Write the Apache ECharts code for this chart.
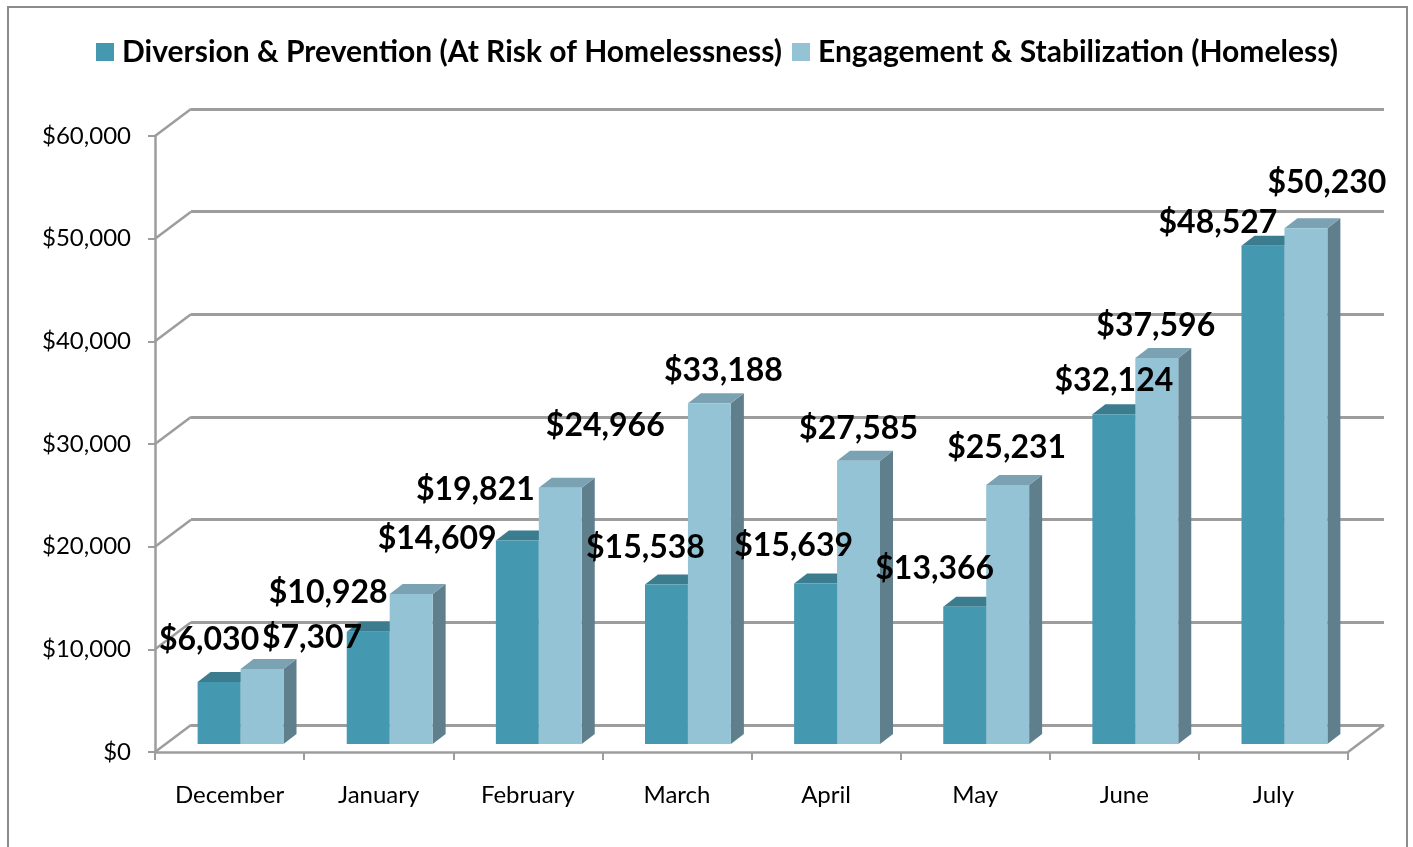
<!DOCTYPE html>
<html>
<head>
<meta charset="utf-8">
<script src="https://cdn.jsdelivr.net/npm/echarts@6/dist/echarts.min.js"></script>
<style>
  html, body { margin: 0; padding: 0; background: #fff; }
  #chart { width: 1413px; height: 847px; }
</style>
</head>
<body>
<div id="chart"></div>
<script>
var months = ['December', 'January', 'February', 'March', 'April', 'May', 'June', 'July'];
var diversion = [6030, 10928, 19821, 15538, 15639, 13366, 32124, 48527];
var engagement = [7307, 14609, 24966, 33188, 27585, 25231, 37596, 50230];
var yTicks = [0, 10000, 20000, 30000, 40000, 50000, 60000];

// hand placed label nudges, like the source chart (dx, dy from bar top centre)
var nudgeDiversion = [[-10, -42], [-40, -39], [-42, -51], [-21, -37], [-22, -38], [-30, -38], [0, -34], [-45, -23]];
var nudgeEngagement = [[50, -31], [26, -55], [45, -62], [14, -33], [0, -32], [-1, -37], [-1, -32], [21, -46]];

var FLOOR = [36, -27];  // screen offset of the back wall
var SET = [11, -8];     // how far back the bars stand
var DEPTH = [13, -10];  // bar depth
var LINE = '#9d9d9d';

function money(v) {
    return '$' + v.toLocaleString('en-US');
}

function barGeom(api, s) {
    var i = api.value(0), v = api.value(1);
    var p0 = api.coord([i, 0]), p1 = api.coord([i, v]);
    var w = api.size([1, 0])[0] * 0.288;
    var x = p0[0] - w + s * w + SET[0];
    return { x: x, w: w, yb: p0[1] + SET[1], yt: p1[1] + SET[1], v: v, i: i };
}

function bar3d(s, faces) {
    return function (params, api) {
        var g = barGeom(api, s);
        var dx = DEPTH[0], dy = DEPTH[1];
        var r = g.x + g.w;
        return {
            type: 'group',
            children: [
                { type: 'polygon', shape: { points: [[r, g.yb], [r + dx, g.yb + dy], [r + dx, g.yt + dy], [r, g.yt]] }, style: { fill: faces.side } },
                { type: 'polygon', shape: { points: [[g.x, g.yt], [g.x + dx, g.yt + dy], [r + dx, g.yt + dy], [r, g.yt]] }, style: { fill: faces.top } },
                { type: 'rect', shape: { x: g.x, y: g.yt, width: g.w, height: g.yb - g.yt }, style: { fill: faces.front } }
            ]
        };
    };
}

function labels(s, nudges) {
    return function (params, api) {
        var g = barGeom(api, s);
        var n = nudges[g.i];
        return {
            type: 'text',
            style: {
                x: g.x + g.w / 2 + n[0],
                y: g.yt + n[1],
                text: money(g.v),
                fill: '#000',
                font: 'bold 32px Lato',
                align: 'center',
                verticalAlign: 'middle'
            }
        };
    };
}

function pairs(arr) {
    return arr.map(function (v, i) { return [i, v]; });
}

var chart = echarts.init(document.getElementById('chart'));

var option = {
    backgroundColor: '#fff',
    animation: false,
    graphic: [{
        type: 'rect',
        shape: { x: 8, y: 7, width: 1399, height: 900 },
        style: { fill: 'none', stroke: '#8c8c8c', lineWidth: 2 },
        silent: true
    }],
    legend: {
        top: 32,
        left: 91,
        itemWidth: 18,
        itemHeight: 18,
        itemGap: 10,
        icon: 'rect',
        data: ['Diversion & Prevention (At Risk of Homelessness)', 'Engagement & Stabilization (Homeless)'],
        textStyle: { fontFamily: 'Lato', fontWeight: 'bold', fontSize: 30, color: '#000', padding: [0, 0, 0, 3] }
    },
    grid: [
        { left: 155, right: 65, top: 136, bottom: 95 },
        { left: 191, right: 29, top: 109, bottom: 122 }
    ],
    xAxis: [{
        type: 'category',
        gridIndex: 0,
        data: months,
        axisLine: { lineStyle: { color: LINE, width: 2.5 } },
        axisTick: { show: true, length: 8, interval: 0, lineStyle: { color: LINE, width: 2 } },
        axisLabel: { margin: 31, fontFamily: 'Lato', fontSize: 24, color: '#000' }
    }, {
        type: 'category',
        gridIndex: 1,
        data: months,
        show: false
    }],
    yAxis: [{
        type: 'value',
        gridIndex: 0,
        min: 0,
        max: 60000,
        interval: 10000,
        axisLine: { show: true, lineStyle: { color: LINE, width: 2.5 } },
        axisTick: { show: true, length: 7, lineStyle: { color: LINE, width: 2 } },
        splitLine: { show: false },
        axisLabel: { margin: 24, fontFamily: 'Lato', fontSize: 24, color: '#000', formatter: money }
    }, {
        type: 'value',
        gridIndex: 1,
        min: 0,
        max: 60000,
        interval: 10000,
        axisLine: { show: false },
        axisTick: { show: false },
        axisLabel: { show: false },
        splitLine: { show: true, lineStyle: { color: LINE, width: 3 } }
    }],
    series: [
        {
            // side wall / floor edges joining front axis to the back wall
            type: 'custom',
            xAxisIndex: 0,
            yAxisIndex: 0,
            silent: true,
            data: yTicks.map(function (v) { return [0, v]; }),
            renderItem: function (params, api) {
                var cs = params.coordSys;
                var y = api.coord([0, api.value(1)])[1];
                var st = { stroke: LINE, lineWidth: 2.5 };
                var kids = [{ type: 'line', shape: { x1: cs.x, y1: y, x2: cs.x + FLOOR[0], y2: y + FLOOR[1] }, style: st }];
                if (api.value(1) === 0) {
                    kids.push({ type: 'line', shape: { x1: cs.x + cs.width, y1: y, x2: cs.x + cs.width + FLOOR[0], y2: y + FLOOR[1] }, style: st });
                }
                return { type: 'group', children: kids };
            }
        },
        {
            name: 'Diversion & Prevention (At Risk of Homelessness)',
            type: 'custom',
            xAxisIndex: 0,
            yAxisIndex: 0,
            itemStyle: { color: '#4499b0' },
            data: pairs(diversion),
            renderItem: bar3d(0, { front: '#4499b0', top: '#3b7d8f', side: '#356f80' })
        },
        {
            name: 'Engagement & Stabilization (Homeless)',
            type: 'custom',
            xAxisIndex: 0,
            yAxisIndex: 0,
            itemStyle: { color: '#93c3d5' },
            data: pairs(engagement),
            renderItem: bar3d(1, { front: '#93c3d5', top: '#7aa2b2', side: '#5f7f8c' })
        },
        {
            type: 'custom',
            z: 10,
            silent: true,
            data: pairs(diversion),
            renderItem: labels(0, nudgeDiversion)
        },
        {
            type: 'custom',
            z: 10,
            silent: true,
            data: pairs(engagement),
            renderItem: labels(1, nudgeEngagement)
        }
    ]
};

chart.setOption(option);
</script>
</body>
</html>
